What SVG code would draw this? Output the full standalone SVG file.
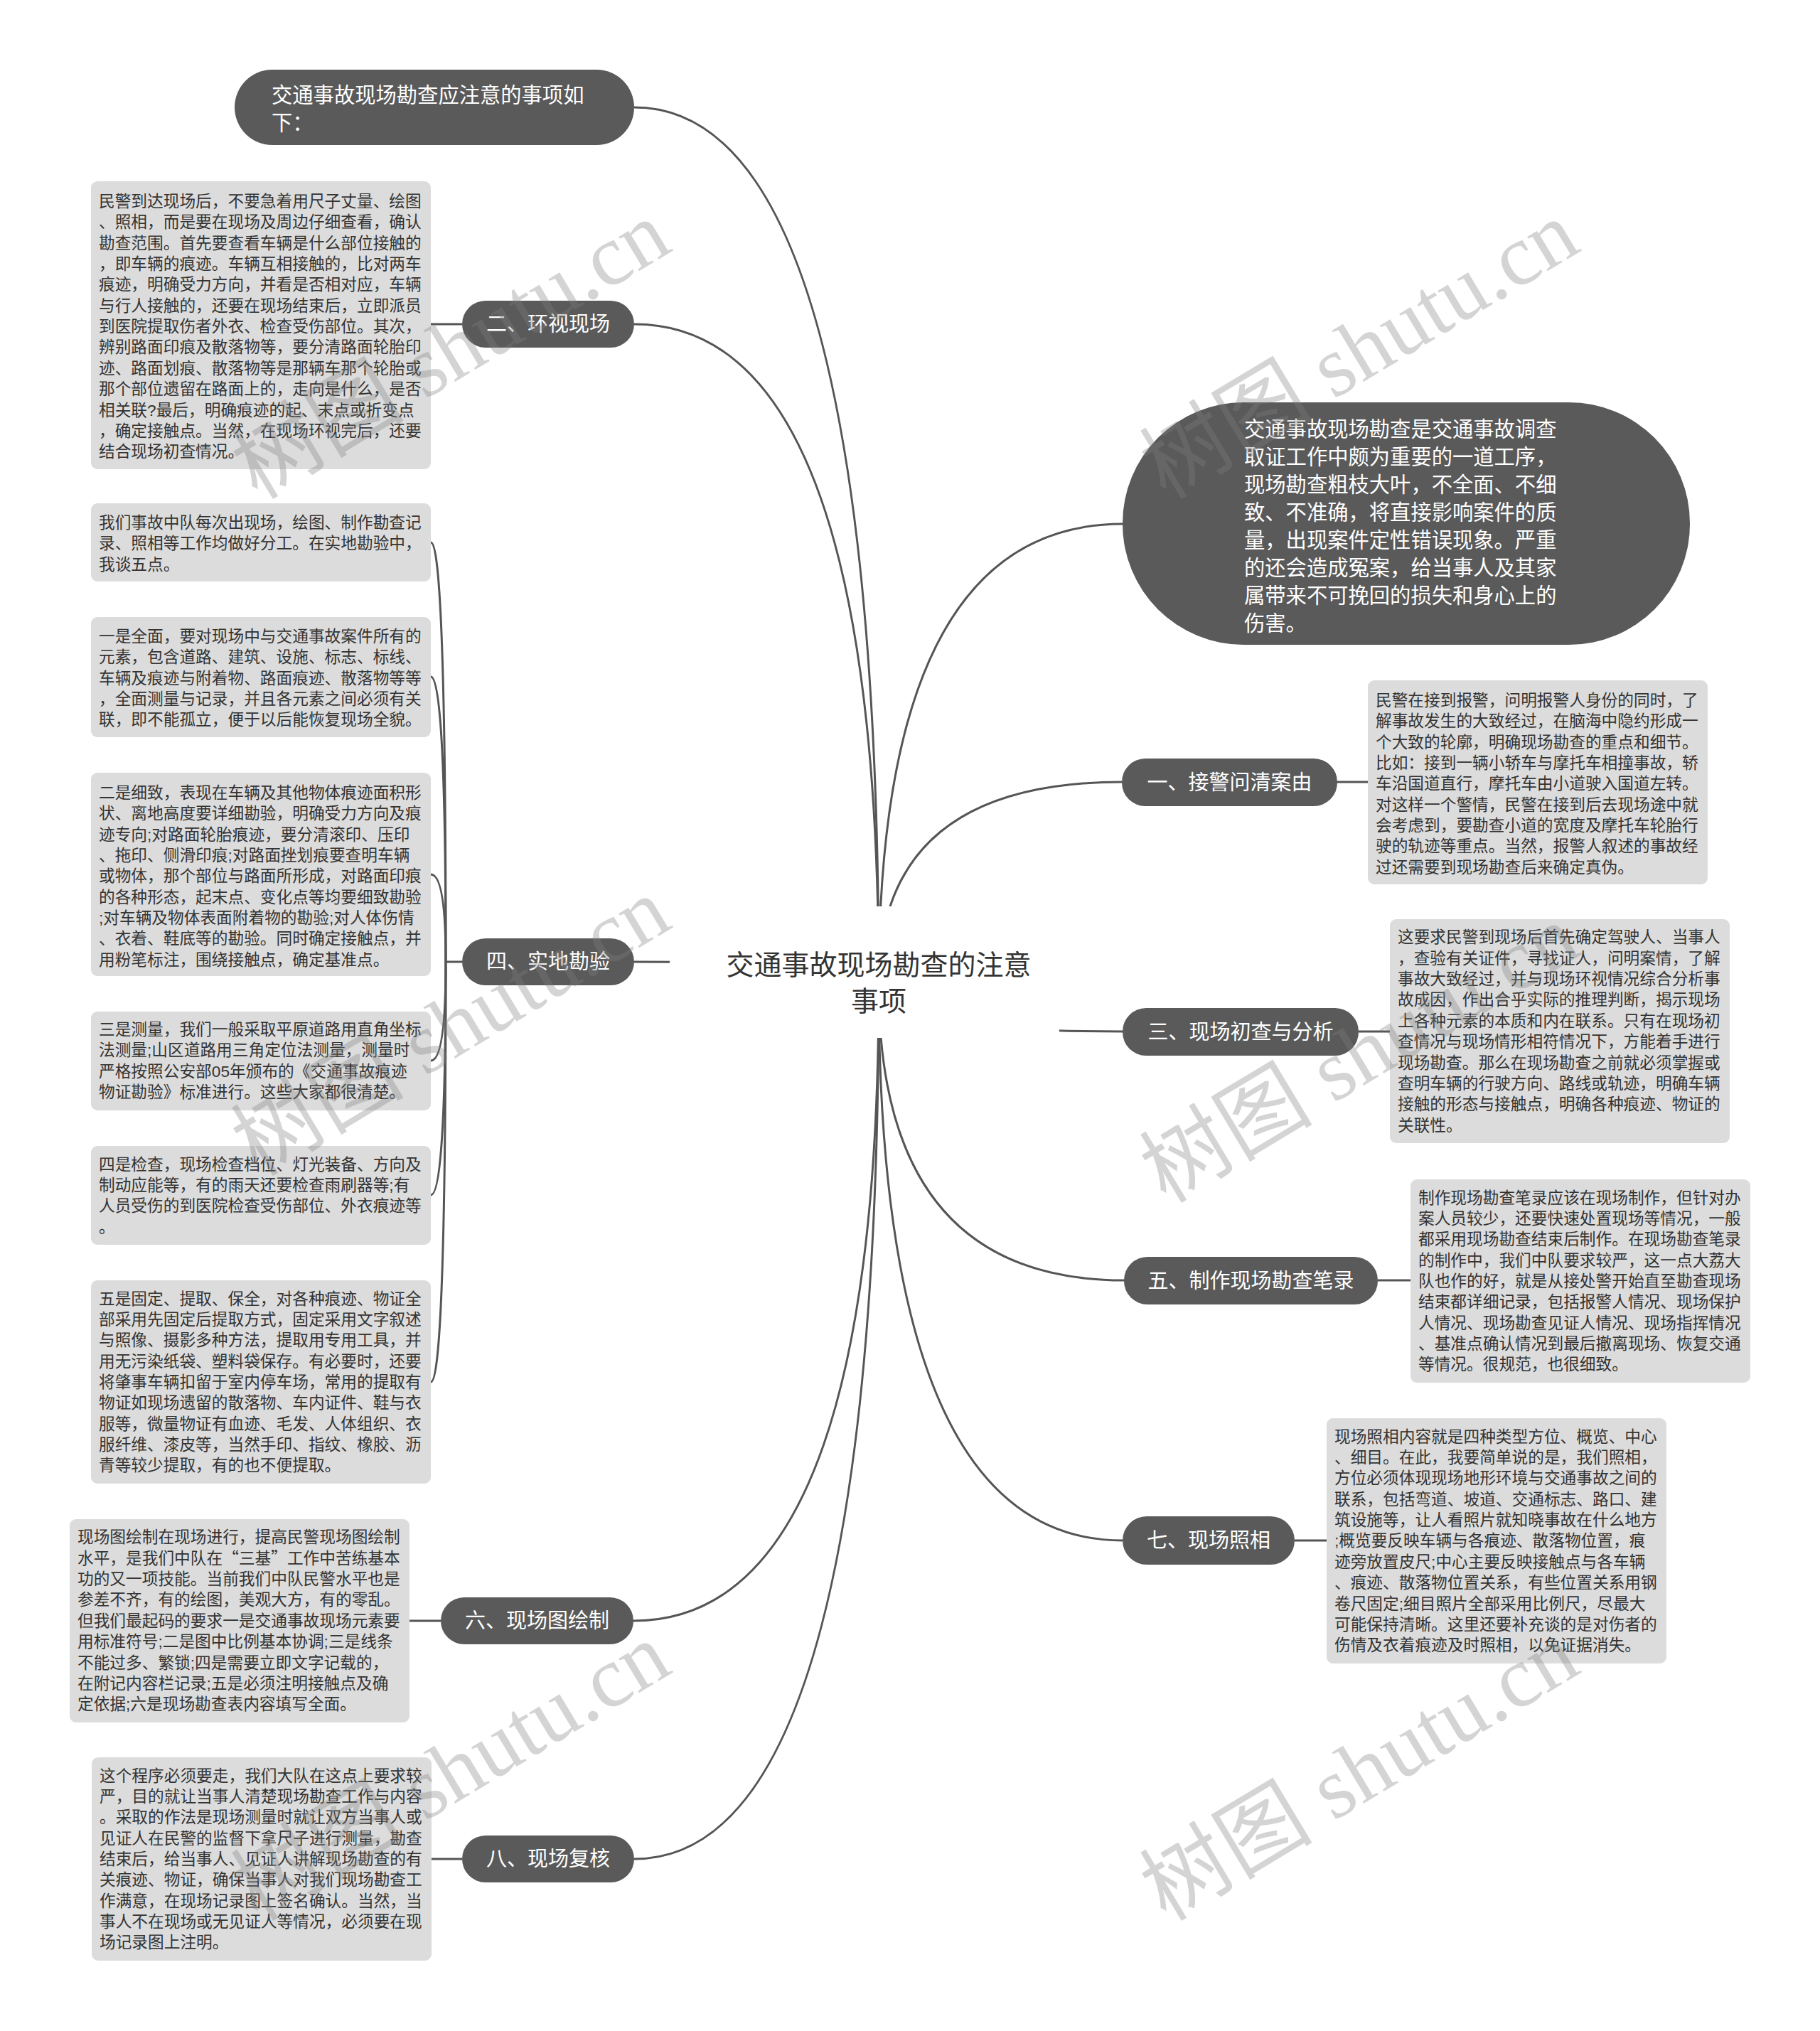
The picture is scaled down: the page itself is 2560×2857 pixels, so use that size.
<svg xmlns="http://www.w3.org/2000/svg" width="2560" height="2857" viewBox="0 0 2560 2857">
<style>
.bg{fill:#ffffff}
.node{fill:#5a5a5a}
.nt{fill:#ffffff;font-family:'Liberation Sans','Noto Sans CJK SC',sans-serif;font-size:29px;text-anchor:middle}
.nl{fill:#ffffff;font-family:'Liberation Sans','Noto Sans CJK SC',sans-serif;font-size:29.3px}
.box{fill:#dcdcdc}
.bt{fill:#333333;font-family:'Liberation Sans','Noto Sans CJK SC',sans-serif;font-size:22.7px}
.cjk{font-family:'Noto Sans CJK SC',sans-serif}
.root{fill:#333333;font-family:'Liberation Sans','Noto Sans CJK SC',sans-serif;font-size:39px;text-anchor:middle}
.c{fill:none;stroke:#555555;stroke-width:3}
.wm{fill:#808080;opacity:0.33;font-family:'Liberation Serif','Noto Sans CJK SC',serif;font-size:122px}
</style>
<rect class="bg" x="0" y="0" width="2560" height="2857"/>
<g id="connectors">
<path class="c" d="M1236,1385 Q1236,151 892,151"/>
<path class="c" d="M1236,1385 Q1236,456 892,456"/>
<path class="c" d="M1236,1385 Q1236,1353 892,1353"/>
<path class="c" d="M1236,1385 Q1236,2280 891,2280"/>
<path class="c" d="M1236,1385 Q1236,2615 892,2615"/>
<path class="c" d="M1236,1385 Q1236,737 1579,737"/>
<path class="c" d="M1236,1385 Q1236,1100 1578,1100"/>
<path class="c" d="M1236,1385 Q1236,1451 1579,1451"/>
<path class="c" d="M1236,1385 Q1236,1801 1581,1801"/>
<path class="c" d="M1236,1385 Q1236,2167 1579,2167"/>
<path class="c" d="M606,456 H650"/>
<path class="c" d="M576,2280 H620"/>
<path class="c" d="M605,2615 H650"/>
<path class="c" d="M1881,1100 H1924"/>
<path class="c" d="M1911,1451 H1955"/>
<path class="c" d="M1938,1801 H1984"/>
<path class="c" d="M1821,2167 H1866"/>
<path class="c" d="M650,1353 H627"/>
<path class="c" d="M627,1353 Q627,763 606,763"/>
<path class="c" d="M627,1353 Q627,952 606,952"/>
<path class="c" d="M627,1353 Q627,1230 606,1230"/>
<path class="c" d="M627,1353 Q627,1492 606,1492"/>
<path class="c" d="M627,1353 Q627,1681 606,1681"/>
<path class="c" d="M627,1353 Q627,1944 606,1944"/>
</g>
<g id="root">
<rect class="bg" x="942" y="1275" width="548" height="185"/>
<text class="root"><tspan x="1236" y="1371">交通事故现场勘查的注意</tspan><tspan x="1236" y="1422">事项</tspan></text>
</g>
<g id="n-intro">
<rect class="node" x="330" y="98" width="562" height="106" rx="53"/>
<text class="nl"><tspan x="382" y="144">交通事故现场勘查应注意的事项如</tspan><tspan x="382" y="183">下：</tspan></text>
</g>
<g id="n-summary">
<rect class="node" x="1579" y="566" width="798" height="341" rx="170"/>
<text class="nl"><tspan x="1750" y="613.5">交通事故现场勘查是交通事故调查</tspan><tspan x="1750" y="652.6">取证工作中颇为重要的一道工序，</tspan><tspan x="1750" y="691.7">现场勘查粗枝大叶，不全面、不细</tspan><tspan x="1750" y="730.8">致、不准确，将直接影响案件的质</tspan><tspan x="1750" y="769.9">量，出现案件定性错误现象。严重</tspan><tspan x="1750" y="809">的还会造成冤案，给当事人及其家</tspan><tspan x="1750" y="848.1">属带来不可挽回的损失和身心上的</tspan><tspan x="1750" y="887.2">伤害。</tspan></text>
</g>
<g id="n2">
<rect class="node" x="650" y="423" width="242" height="66" rx="33"/>
<text class="nt" x="771" y="466">二、环视现场</text>
</g>
<g id="n2-text">
<rect class="box" x="128" y="255" width="478" height="405" rx="9"/>
<text class="bt"><tspan x="139" y="291">民警到达现场后，不要急着用尺子丈量、绘图</tspan><tspan x="139" dy="29.35">、照相，而是要在现场及周边仔细查看，确认</tspan><tspan x="139" dy="29.35">勘查范围。首先要查看车辆是什么部位接触的</tspan><tspan x="139" dy="29.35">，即车辆的痕迹。车辆互相接触的，比对两车</tspan><tspan x="139" dy="29.35">痕迹，明确受力方向，并看是否相对应，车辆</tspan><tspan x="139" dy="29.35">与行人接触的，还要在现场结束后，立即派员</tspan><tspan x="139" dy="29.35">到医院提取伤者外衣、检查受伤部位。其次，</tspan><tspan x="139" dy="29.35">辨别路面印痕及散落物等，要分清路面轮胎印</tspan><tspan x="139" dy="29.35">迹、路面划痕、散落物等是那辆车那个轮胎或</tspan><tspan x="139" dy="29.35">那个部位遗留在路面上的，走向是什么，是否</tspan><tspan x="139" dy="29.35">相关联?最后，明确痕迹的起、末点或折变点</tspan><tspan x="139" dy="29.35">，确定接触点。当然，在现场环视完后，还要</tspan><tspan x="139" dy="29.35">结合现场初查情况。</tspan></text>
</g>
<g id="n4">
<rect class="node" x="650" y="1320" width="242" height="66" rx="33"/>
<text class="nt" x="771" y="1363">四、实地勘验</text>
</g>
<g id="n4-a">
<rect class="box" x="128" y="708" width="478" height="110" rx="9"/>
<text class="bt"><tspan x="139" y="743">我们事故中队每次出现场，绘图、制作勘查记</tspan><tspan x="139" dy="29.35">录、照相等工作均做好分工。在实地勘验中，</tspan><tspan x="139" dy="29.35">我谈五点。</tspan></text>
</g>
<g id="n4-b">
<rect class="box" x="128" y="868" width="478" height="169" rx="9"/>
<text class="bt"><tspan x="139" y="903">一是全面，要对现场中与交通事故案件所有的</tspan><tspan x="139" dy="29.35">元素，包含道路、建筑、设施、标志、标线、</tspan><tspan x="139" dy="29.35">车辆及痕迹与附着物、路面痕迹、散落物等等</tspan><tspan x="139" dy="29.35">，全面测量与记录，并且各元素之间必须有关</tspan><tspan x="139" dy="29.35">联，即不能孤立，便于以后能恢复现场全貌。</tspan></text>
</g>
<g id="n4-c">
<rect class="box" x="128" y="1087" width="478" height="286" rx="9"/>
<text class="bt"><tspan x="139" y="1123">二是细致，表现在车辆及其他物体痕迹面积形</tspan><tspan x="139" dy="29.35">状、离地高度要详细勘验，明确受力方向及痕</tspan><tspan x="139" dy="29.35">迹专向;对路面轮胎痕迹，要分清滚印、压印</tspan><tspan x="139" dy="29.35">、拖印、侧滑印痕;对路面挫划痕要查明车辆</tspan><tspan x="139" dy="29.35">或物体，那个部位与路面所形成，对路面印痕</tspan><tspan x="139" dy="29.35">的各种形态，起末点、变化点等均要细致勘验</tspan><tspan x="139" dy="29.35">;对车辆及物体表面附着物的勘验;对人体伤情</tspan><tspan x="139" dy="29.35">、衣着、鞋底等的勘验。同时确定接触点，并</tspan><tspan x="139" dy="29.35">用粉笔标注，围绕接触点，确定基准点。</tspan></text>
</g>
<g id="n4-d">
<rect class="box" x="128" y="1423" width="478" height="139" rx="9"/>
<text class="bt"><tspan x="139" y="1456">三是测量，我们一般采取平原道路用直角坐标</tspan><tspan x="139" dy="29.35">法测量;山区道路用三角定位法测量，测量时</tspan><tspan x="139" dy="29.35">严格按照公安部05年颁布的《交通事故痕迹</tspan><tspan x="139" dy="29.35">物证勘验》标准进行。这些大家都很清楚。</tspan></text>
</g>
<g id="n4-e">
<rect class="box" x="128" y="1612" width="478" height="139" rx="9"/>
<text class="bt"><tspan x="139" y="1645.5">四是检查，现场检查档位、灯光装备、方向及</tspan><tspan x="139" dy="29.35">制动应能等，有的雨天还要检查雨刷器等;有</tspan><tspan x="139" dy="29.35">人员受伤的到医院检查受伤部位、外衣痕迹等</tspan><tspan x="139" dy="29.35">。</tspan></text>
</g>
<g id="n4-f">
<rect class="box" x="128" y="1801" width="478" height="286" rx="9"/>
<text class="bt"><tspan x="139" y="1834.6">五是固定、提取、保全，对各种痕迹、物证全</tspan><tspan x="139" dy="29.35">部采用先固定后提取方式，固定采用文字叙述</tspan><tspan x="139" dy="29.35">与照像、摄影多种方法，提取用专用工具，并</tspan><tspan x="139" dy="29.35">用无污染纸袋、塑料袋保存。有必要时，还要</tspan><tspan x="139" dy="29.35">将肇事车辆扣留于室内停车场，常用的提取有</tspan><tspan x="139" dy="29.35">物证如现场遗留的散落物、车内证件、鞋与衣</tspan><tspan x="139" dy="29.35">服等，微量物证有血迹、毛发、人体组织、衣</tspan><tspan x="139" dy="29.35">服纤维、漆皮等，当然手印、指纹、橡胶、沥</tspan><tspan x="139" dy="29.35">青等较少提取，有的也不便提取。</tspan></text>
</g>
<g id="n6">
<rect class="node" x="620" y="2247" width="271" height="66" rx="33"/>
<text class="nt" x="755.5" y="2290">六、现场图绘制</text>
</g>
<g id="n6-text">
<rect class="box" x="98" y="2137" width="478" height="286" rx="9"/>
<text class="bt"><tspan x="109" y="2170.4">现场图绘制在现场进行，提高民警现场图绘制</tspan><tspan x="109" dy="29.35">水平，是我们中队在<tspan class="cjk">“</tspan>三基<tspan class="cjk">”</tspan>工作中苦练基本</tspan><tspan x="109" dy="29.35">功的又一项技能。当前我们中队民警水平也是</tspan><tspan x="109" dy="29.35">参差不齐，有的绘图，美观大方，有的零乱。</tspan><tspan x="109" dy="29.35">但我们最起码的要求一是交通事故现场元素要</tspan><tspan x="109" dy="29.35">用标准符号;二是图中比例基本协调;三是线条</tspan><tspan x="109" dy="29.35">不能过多、繁锁;四是需要立即文字记载的，</tspan><tspan x="109" dy="29.35">在附记内容栏记录;五是必须注明接触点及确</tspan><tspan x="109" dy="29.35">定依据;六是现场勘查表内容填写全面。</tspan></text>
</g>
<g id="n8">
<rect class="node" x="650" y="2582" width="242" height="66" rx="33"/>
<text class="nt" x="771" y="2625">八、现场复核</text>
</g>
<g id="n8-text">
<rect class="box" x="129" y="2472" width="478" height="286" rx="9"/>
<text class="bt"><tspan x="140" y="2505.6">这个程序必须要走，我们大队在这点上要求较</tspan><tspan x="140" dy="29.35">严，目的就让当事人清楚现场勘查工作与内容</tspan><tspan x="140" dy="29.35">。采取的作法是现场测量时就让双方当事人或</tspan><tspan x="140" dy="29.35">见证人在民警的监督下拿尺子进行测量，勘查</tspan><tspan x="140" dy="29.35">结束后，给当事人、见证人讲解现场勘查的有</tspan><tspan x="140" dy="29.35">关痕迹、物证，确保当事人对我们现场勘查工</tspan><tspan x="140" dy="29.35">作满意，在现场记录图上签名确认。当然，当</tspan><tspan x="140" dy="29.35">事人不在现场或无见证人等情况，必须要在现</tspan><tspan x="140" dy="29.35">场记录图上注明。</tspan></text>
</g>
<g id="n1">
<rect class="node" x="1578" y="1067" width="303" height="67" rx="33"/>
<text class="nt" x="1729.5" y="1110.5">一、接警问清案由</text>
</g>
<g id="n1-text">
<rect class="box" x="1924" y="957" width="478" height="287" rx="9"/>
<text class="bt"><tspan x="1935" y="993">民警在接到报警，问明报警人身份的同时，了</tspan><tspan x="1935" dy="29.35">解事故发生的大致经过，在脑海中隐约形成一</tspan><tspan x="1935" dy="29.35">个大致的轮廓，明确现场勘查的重点和细节。</tspan><tspan x="1935" dy="29.35">比如：接到一辆小轿车与摩托车相撞事故，轿</tspan><tspan x="1935" dy="29.35">车沿国道直行，摩托车由小道驶入国道左转。</tspan><tspan x="1935" dy="29.35">对这样一个警情，民警在接到后去现场途中就</tspan><tspan x="1935" dy="29.35">会考虑到，要勘查小道的宽度及摩托车轮胎行</tspan><tspan x="1935" dy="29.35">驶的轨迹等重点。当然，报警人叙述的事故经</tspan><tspan x="1935" dy="29.35">过还需要到现场勘查后来确定真伪。</tspan></text>
</g>
<g id="n3">
<rect class="node" x="1579" y="1418" width="332" height="67" rx="33"/>
<text class="nt" x="1745" y="1461.5">三、现场初查与分析</text>
</g>
<g id="n3-text">
<rect class="box" x="1955" y="1293" width="478" height="315" rx="9"/>
<text class="bt"><tspan x="1966" y="1326.4">这要求民警到现场后首先确定驾驶人、当事人</tspan><tspan x="1966" dy="29.35">，查验有关证件，寻找证人，问明案情，了解</tspan><tspan x="1966" dy="29.35">事故大致经过，并与现场环视情况综合分析事</tspan><tspan x="1966" dy="29.35">故成因，作出合乎实际的推理判断，揭示现场</tspan><tspan x="1966" dy="29.35">上各种元素的本质和内在联系。只有在现场初</tspan><tspan x="1966" dy="29.35">查情况与现场情形相符情况下，方能着手进行</tspan><tspan x="1966" dy="29.35">现场勘查。那么在现场勘查之前就必须掌握或</tspan><tspan x="1966" dy="29.35">查明车辆的行驶方向、路线或轨迹，明确车辆</tspan><tspan x="1966" dy="29.35">接触的形态与接触点，明确各种痕迹、物证的</tspan><tspan x="1966" dy="29.35">关联性。</tspan></text>
</g>
<g id="n5">
<rect class="node" x="1581" y="1768" width="357" height="67" rx="33"/>
<text class="nt" x="1759.5" y="1811.5">五、制作现场勘查笔录</text>
</g>
<g id="n5-text">
<rect class="box" x="1984" y="1659" width="478" height="286" rx="9"/>
<text class="bt"><tspan x="1995" y="1692.6">制作现场勘查笔录应该在现场制作，但针对办</tspan><tspan x="1995" dy="29.35">案人员较少，还要快速处置现场等情况，一般</tspan><tspan x="1995" dy="29.35">都采用现场勘查结束后制作。在现场勘查笔录</tspan><tspan x="1995" dy="29.35">的制作中，我们中队要求较严，这一点大荔大</tspan><tspan x="1995" dy="29.35">队也作的好，就是从接处警开始直至勘查现场</tspan><tspan x="1995" dy="29.35">结束都详细记录，包括报警人情况、现场保护</tspan><tspan x="1995" dy="29.35">人情况、现场勘查见证人情况、现场指挥情况</tspan><tspan x="1995" dy="29.35">、基准点确认情况到最后撤离现场、恢复交通</tspan><tspan x="1995" dy="29.35">等情况。很规范，也很细致。</tspan></text>
</g>
<g id="n7">
<rect class="node" x="1579" y="2133" width="242" height="68" rx="34"/>
<text class="nt" x="1700" y="2177">七、现场照相</text>
</g>
<g id="n7-text">
<rect class="box" x="1866" y="1995" width="478" height="345" rx="9"/>
<text class="bt"><tspan x="1877" y="2028.7">现场照相内容就是四种类型方位、概览、中心</tspan><tspan x="1877" dy="29.35">、细目。在此，我要简单说的是，我们照相，</tspan><tspan x="1877" dy="29.35">方位必须体现现场地形环境与交通事故之间的</tspan><tspan x="1877" dy="29.35">联系，包括弯道、坡道、交通标志、路口、建</tspan><tspan x="1877" dy="29.35">筑设施等，让人看照片就知晓事故在什么地方</tspan><tspan x="1877" dy="29.35">;概览要反映车辆与各痕迹、散落物位置，痕</tspan><tspan x="1877" dy="29.35">迹旁放置皮尺;中心主要反映接触点与各车辆</tspan><tspan x="1877" dy="29.35">、痕迹、散落物位置关系，有些位置关系用钢</tspan><tspan x="1877" dy="29.35">卷尺固定;细目照片全部采用比例尺，尽最大</tspan><tspan x="1877" dy="29.35">可能保持清晰。这里还要补充谈的是对伤者的</tspan><tspan x="1877" dy="29.35">伤情及衣着痕迹及时照相，以免证据消失。</tspan></text>
</g>
<g id="watermarks">
<text class="wm" transform="translate(362,704) rotate(-31)">树图 shutu.cn</text>
<text class="wm" transform="translate(1640,704) rotate(-31)">树图 shutu.cn</text>
<text class="wm" transform="translate(362,1656) rotate(-31)">树图 shutu.cn</text>
<text class="wm" transform="translate(1640,1694) rotate(-31)">树图 shutu.cn</text>
<text class="wm" transform="translate(362,2704) rotate(-31)">树图 shutu.cn</text>
<text class="wm" transform="translate(1640,2704) rotate(-31)">树图 shutu.cn</text>
</g>
</svg>
